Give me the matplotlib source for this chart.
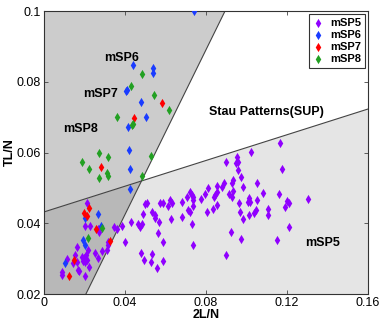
import numpy as np
import matplotlib
matplotlib.use("Agg")
import matplotlib.pyplot as plt
from matplotlib.patches import Polygon

plt.rcParams['font.family'] = ['Liberation Sans', 'DejaVu Sans']

# boundary lines of the regions
steep_x = [0.0207, 0.0894]     # x at TL/N = 0.02 and 0.1
shallow_y = [0.0432, 0.0723]   # TL/N at 2L/N = 0 and 0.16

# mSP5
sp5_x = [0.0212, 0.0202, 0.0227, 0.0267, 0.0272, 0.0346, 0.0360, 0.0385, 0.0430, 0.0464,
         0.0474, 0.0484, 0.0499, 0.0509, 0.0489, 0.0533, 0.0548, 0.0400, 0.0316, 0.0316,
         0.0286, 0.0252, 0.0217, 0.0188, 0.0198, 0.0212, 0.0193, 0.0202, 0.0207, 0.0163,
         0.0153, 0.0163, 0.0089, 0.0089, 0.0168, 0.0222, 0.0267, 0.0311, 0.0479, 0.0494,
         0.0528, 0.0558, 0.0202, 0.0143, 0.0114, 0.0173, 0.0533, 0.0588,
         0.0548, 0.0568, 0.0588, 0.0573, 0.0622, 0.0632, 0.0612, 0.0627, 0.0681, 0.0681,
         0.0706, 0.0721, 0.0731, 0.0736, 0.0736, 0.0711, 0.0721, 0.0736, 0.0731, 0.0775,
         0.0795, 0.0810, 0.0805, 0.0835, 0.0854, 0.0839, 0.0844, 0.0854, 0.0854, 0.0879,
         0.0889, 0.0899, 0.0914, 0.0928, 0.0933, 0.0933, 0.0928, 0.0948, 0.0953, 0.0958,
         0.0958, 0.0973, 0.0983, 0.0963, 0.0968, 0.0983, 0.1007, 0.1017, 0.1012, 0.1052,
         0.1037, 0.1047, 0.1012, 0.1022, 0.1052, 0.1081, 0.1165, 0.1175, 0.1160, 0.1106,
         0.1106, 0.1200, 0.1210, 0.1190, 0.1304, 0.1210, 0.1151, 0.0923, 0.0973, 0.0563,
         0.0588, 0.0736, 0.0899]
sp5_y = [0.0457, 0.0392, 0.0392, 0.0384, 0.0375, 0.0389, 0.0384, 0.0392, 0.0404, 0.0398,
         0.0389, 0.0398, 0.0454, 0.0457, 0.0426, 0.0432, 0.0423, 0.0347, 0.0347, 0.0339,
         0.0322, 0.0316, 0.0324, 0.0305, 0.0302, 0.0296, 0.0293, 0.0290, 0.0310, 0.0333,
         0.0310, 0.0290, 0.0262, 0.0254, 0.0268, 0.0276, 0.0302, 0.0324, 0.0316, 0.0296,
         0.0290, 0.0274, 0.0251, 0.0288, 0.0299, 0.0265, 0.0313, 0.0293,
         0.0415, 0.0404, 0.0457, 0.0457, 0.0466, 0.0457, 0.0449, 0.0412, 0.0460, 0.0418,
         0.0474, 0.0488, 0.0480, 0.0474, 0.0466, 0.0437, 0.0432, 0.0449, 0.0398, 0.0469,
         0.0483, 0.0500, 0.0432, 0.0440, 0.0452, 0.0474, 0.0480, 0.0488, 0.0505, 0.0502,
         0.0514, 0.0573, 0.0483, 0.0474, 0.0491, 0.0522, 0.0514, 0.0570, 0.0587, 0.0573,
         0.0551, 0.0531, 0.0502, 0.0457, 0.0432, 0.0412, 0.0460, 0.0460, 0.0471, 0.0466,
         0.0429, 0.0437, 0.0423, 0.0601, 0.0514, 0.0486, 0.0627, 0.0553, 0.0483, 0.0440,
         0.0423, 0.0463, 0.0457, 0.0446, 0.0469, 0.0389, 0.0353, 0.0375, 0.0355, 0.0372,
         0.0347, 0.0339, 0.0310]

# mSP6
sp6_x = [0.0741, 0.0439, 0.0538, 0.0538, 0.0405, 0.0410, 0.0479, 0.0504, 0.0415, 0.0420,
         0.0425, 0.0425, 0.0267, 0.0202, 0.0281, 0.0193, 0.0202, 0.0104]
sp6_y = [0.1000, 0.0847, 0.0839, 0.0825, 0.0774, 0.0777, 0.0743, 0.0700, 0.0672, 0.0607,
         0.0553, 0.0497, 0.0426, 0.0415, 0.0392, 0.0353, 0.0339, 0.0288]

# mSP7
sp7_x = [0.0583, 0.0444, 0.0281, 0.0222, 0.0198, 0.0212, 0.0257, 0.0326, 0.0148, 0.0123]
sp7_y = [0.0740, 0.0698, 0.0559, 0.0443, 0.0429, 0.0421, 0.0384, 0.0350, 0.0296, 0.0251]

# mSP8
sp8_x = [0.0484, 0.0430, 0.0543, 0.0617, 0.0360, 0.0439, 0.0435, 0.0272, 0.0316, 0.0188,
         0.0528, 0.0222, 0.0311, 0.0316, 0.0272, 0.0484, 0.0286, 0.0217]
sp8_y = [0.0822, 0.0788, 0.0763, 0.0720, 0.0700, 0.0681, 0.0678, 0.0599, 0.0587, 0.0573,
         0.0590, 0.0553, 0.0542, 0.0534, 0.0528, 0.0534, 0.0387, 0.0358]

xmin, xmax, ymin, ymax = 0, 0.16, 0.02, 0.1

fig = plt.figure(figsize=(3.82, 3.27), dpi=100)
ax = fig.add_axes([0.1152, 0.1009, 0.8482, 0.8654])

# intersection of the two boundary lines
a = (shallow_y[1] - shallow_y[0]) / (xmax - xmin)
b = (steep_x[1] - steep_x[0]) / (ymax - ymin)
xi = (steep_x[0] + b * (shallow_y[0] - ymin)) / (1 - a * b)
yi = shallow_y[0] + a * xi

ax.add_patch(Polygon([(xmin, shallow_y[0]), (xmin, ymax), (steep_x[1], ymax), (xi, yi)],
                     closed=True, fc='#cccccc', ec='none', zorder=0))
ax.add_patch(Polygon([(xmin, ymin), (steep_x[0], ymin), (xi, yi), (xmin, shallow_y[0])],
                     closed=True, fc='#b8b8b8', ec='none', zorder=0))
ax.add_patch(Polygon([(steep_x[0], ymin), (xmax, ymin), (xmax, shallow_y[1]), (xi, yi)],
                     closed=True, fc='#e5e5e5', ec='none', zorder=0))
ax.plot(steep_x, [ymin, ymax], color='#444444', lw=0.8, zorder=1)
ax.plot([xmin, xmax], shallow_y, color='#444444', lw=0.8, zorder=1)

ms = 22
ax.scatter(sp5_x, sp5_y, marker='d', s=ms, color='#9000ff', lw=0, label='mSP5', zorder=3)
ax.scatter(sp6_x, sp6_y, marker='d', s=ms, color='#1a3cff', lw=0, label='mSP6', zorder=3)
ax.scatter(sp7_x, sp7_y, marker='d', s=ms, color='#ff0000', lw=0, label='mSP7', zorder=3)
ax.scatter(sp8_x, sp8_y, marker='d', s=ms, color='#22a022', lw=0, label='mSP8', zorder=3)

ax.set_xlim(xmin, xmax)
ax.set_ylim(ymin, ymax)
ax.set_xticks([0, 0.04, 0.08, 0.12, 0.16])
ax.set_xticklabels(['0', '0.04', '0.08', '0.12', '0.16'])
ax.set_yticks([0.02, 0.04, 0.06, 0.08, 0.1])
ax.set_yticklabels(['0.02', '0.04', '0.06', '0.08', '0.1'])
ax.tick_params(direction='in', length=3, width=0.6, labelsize=9, top=True, right=True, pad=2,
               color='#444444')
for s in ax.spines.values():
    s.set_linewidth(0.8)
    s.set_color('#333333')

ax.set_xlabel('2L/N', fontsize=9, fontweight='bold', labelpad=0)
ax.set_ylabel('TL/N', fontsize=9, fontweight='bold', labelpad=1)

ax.text(0.0382, 0.0867, 'mSP6', fontsize=9, fontweight='bold', ha='center', va='center')
ax.text(0.0277, 0.0766, 'mSP7', fontsize=9, fontweight='bold', ha='center', va='center')
ax.text(0.0178, 0.0667, 'mSP8', fontsize=9, fontweight='bold', ha='center', va='center')
ax.text(0.1096, 0.0714, 'Stau Patterns(SUP)', fontsize=9, fontweight='bold', ha='center', va='center')
ax.text(0.1378, 0.0343, 'mSP5', fontsize=9, fontweight='bold', ha='center', va='center')

leg = ax.legend(loc='upper right', prop={'weight': 'bold', 'size': 8},
                frameon=True, fancybox=False, borderaxespad=0.3, handlelength=1.0,
                handletextpad=0.6, labelspacing=0.2, borderpad=0.3, scatterpoints=1,
                framealpha=1)
leg.get_frame().set_edgecolor('#333333')
leg.get_frame().set_linewidth(0.8)

fig.savefig('out.png', dpi=100)
